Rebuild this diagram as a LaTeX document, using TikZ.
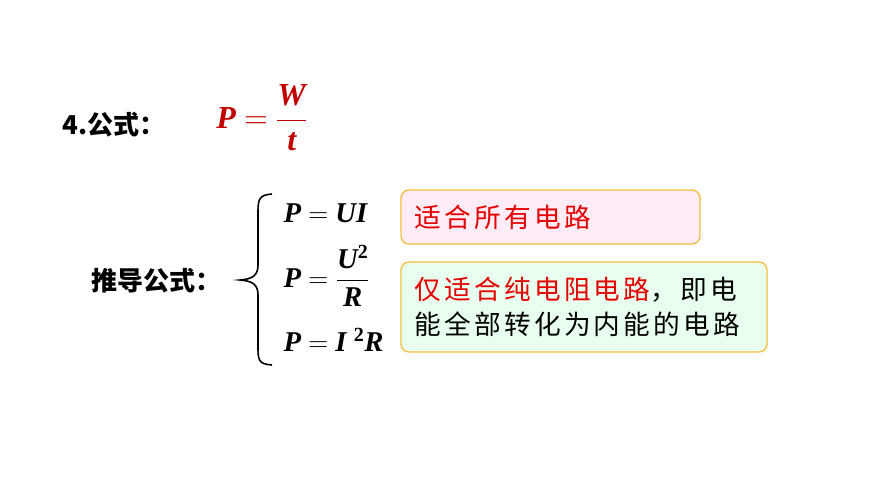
\documentclass[tikz,border=0pt]{standalone}
\usepackage{fontspec}
\setmainfont{Liberation Serif}
\newfontfamily\cjk{Noto Sans CJK SC}
\newfontfamily\cjkw[LetterSpace=12]{Noto Sans CJK SC}
\newcommand{\myfr}[2]{$\displaystyle\frac{\hbox{#1}}{\hbox{#2}}$}
\definecolor{fred}{RGB}{192,0,0}
\definecolor{tred}{RGB}{230,0,0}
\definecolor{bord}{RGB}{245,190,60}
\definecolor{pinkf}{RGB}{255,236,246}
\definecolor{greenf}{RGB}{232,255,240}
\begin{document}
\begin{tikzpicture}[x=0.75pt,y=-0.75pt]
\tikzset{lab/.style={font=\cjk\bfseries\fontsize{19.5}{22}\selectfont},
 frm/.style={font=\bfseries\itshape\fontsize{21.5}{24}\selectfont},
 box/.style={draw=bord,line width=1pt,rounded corners=6pt},
 btxt/.style={font=\cjkw\fontsize{20}{26}\selectfont,anchor=west,align=left}}
\useasboundingbox (0,0) rectangle (870,489);
\node[lab] (t1) at (114,125) {4.公式：};
\node[frm,text=fred,font=\bfseries\itshape\fontsize{24}{26}\selectfont] (f1) at (262,118) {P $=$ \myfr{W}{t}};
\node[lab] (t2) at (156,281) {推导公式：};
\draw[line width=1.2pt] (272,194) .. controls (258,195) and (258,200) .. (258,215)
 -- (258,265) .. controls (258,276) and (252,279) .. (240,280)
 .. controls (252,281) and (258,284) .. (258,295) -- (258,345)
 .. controls (258,360) and (258,364) .. (272,365);
\node[frm,anchor=west] (e1) at (279,213) {P $=$ UI};
\node[frm,anchor=west] (e2) at (279,276) {P $=$ \myfr{U\textsuperscript{\upshape 2}}{R}};
\node[frm,anchor=west] (e3) at (279,340) {P $=$ I \textsuperscript{\upshape 2}R};
\draw[box,fill=pinkf] (401,190) rectangle (700,244);
\node[btxt,text=tred] (b1) at (410,217) {适合所有电路};
\draw[box,fill=greenf] (401,262) rectangle (767,352);
\node[btxt] (b2) at (410,307) {\textcolor{tred}{仅适合纯电阻电路}，即电\\能全部转化为内能的电路};
\end{tikzpicture}
\end{document}
